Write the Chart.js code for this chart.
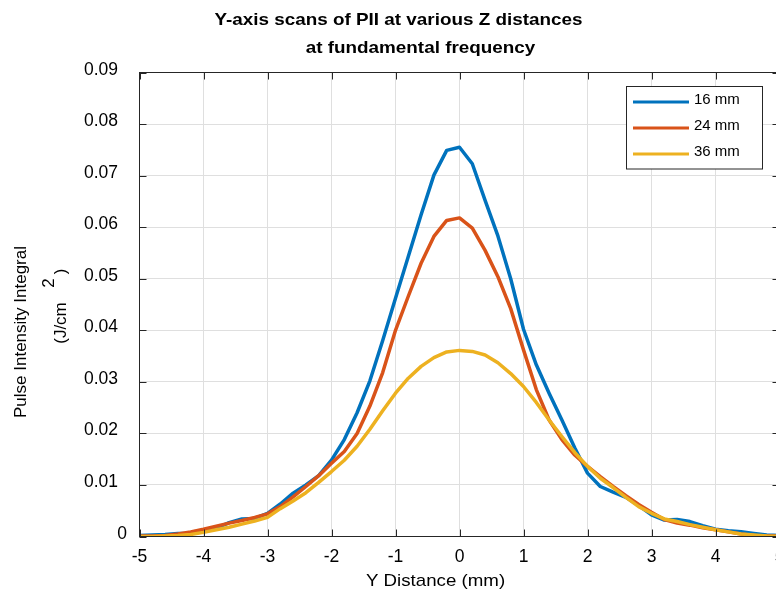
<!DOCTYPE html>
<html>
<head>
<meta charset="utf-8">
<title>Y-axis scans of PII</title>
<script src="https://cdn.jsdelivr.net/npm/chart.js@4/dist/chart.umd.min.js"></script>
<style>
  html, body { margin: 0; padding: 0; background: #ffffff; overflow: hidden; }
  #wrap { width: 776px; height: 597px; overflow: hidden; }
  canvas { display: block; }
</style>
</head>
<body>
<div id="wrap"><canvas id="c" width="790" height="597"></canvas></div>
<script>
// Y position of each scan sample (mm)
const yDistance = [
  -5.0, -4.8, -4.6, -4.4, -4.2, -4.0, -3.8, -3.6, -3.4, -3.2,
  -3.0, -2.8, -2.6, -2.4, -2.2, -2.0, -1.8, -1.6, -1.4, -1.2,
  -1.0, -0.8, -0.6, -0.4, -0.2, 0.0, 0.2, 0.4, 0.6, 0.8,
  1.0, 1.2, 1.4, 1.6, 1.8, 2.0, 2.2, 2.4, 2.6, 2.8,
  3.0, 3.2, 3.4, 3.6, 3.8, 4.0, 4.2, 4.4, 4.6, 4.8, 5.0
];

// Pulse intensity integral (J/cm^2) at Z = 16 mm
const pii16 = [
  0.0002, 0.0003, 0.0004, 0.0006, 0.0006, 0.0010, 0.0016, 0.0027, 0.0034, 0.0035,
  0.0045, 0.0063, 0.0084, 0.0100, 0.0118, 0.0148, 0.0188, 0.0240, 0.0302, 0.0380,
  0.0462, 0.0543, 0.0624, 0.0701, 0.0749, 0.0755, 0.0723, 0.0652, 0.0583, 0.0500,
  0.0402, 0.0333, 0.0278, 0.0226, 0.0172, 0.0123, 0.0097, 0.0086, 0.0076, 0.0060,
  0.0042, 0.0032, 0.0033, 0.0029, 0.0021, 0.0014, 0.0011, 0.0009, 0.0006, 0.0003, 0.0002
];

// Pulse intensity integral (J/cm^2) at Z = 24 mm
const pii24 = [
  0.0001, 0.0001, 0.0002, 0.0005, 0.0009, 0.0014, 0.0020, 0.0026, 0.0031, 0.0037,
  0.0044, 0.0058, 0.0077, 0.0097, 0.0118, 0.0142, 0.0165, 0.0200, 0.0253, 0.0318,
  0.0400, 0.0466, 0.0530, 0.0582, 0.0613, 0.0618, 0.0598, 0.0555, 0.0504, 0.0442,
  0.0362, 0.0285, 0.0226, 0.0188, 0.0158, 0.0136, 0.0116, 0.0097, 0.0079, 0.0062,
  0.0047, 0.0033, 0.0026, 0.0022, 0.0017, 0.0013, 0.0009, 0.0005, 0.0002, 0.0001, 0.0001
];

// Pulse intensity integral (J/cm^2) at Z = 36 mm
const pii36 = [
  0.0000, 0.0000, 0.0001, 0.0002, 0.0004, 0.0008, 0.0013, 0.0018, 0.0024, 0.0030,
  0.0037, 0.0054, 0.0069, 0.0085, 0.0105, 0.0126, 0.0148, 0.0175, 0.0208, 0.0244,
  0.0278, 0.0307, 0.0330, 0.0347, 0.0358, 0.0361, 0.0359, 0.0352, 0.0337, 0.0316,
  0.0291, 0.0260, 0.0226, 0.0194, 0.0163, 0.0136, 0.0113, 0.0095, 0.0076, 0.0058,
  0.0045, 0.0034, 0.0029, 0.0023, 0.0018, 0.0013, 0.0009, 0.0005, 0.0003, 0.0001, 0.0000
];

const seriesLabels = ['16 mm', '24 mm', '36 mm'];
const seriesColors = ['#0072BD', '#D95319', '#EDB120'];

const titleLines = ['Y-axis scans of PII at various Z distances', 'at fundamental frequency'];
const xTitle = 'Y Distance (mm)';
const yTitle = 'Pulse Intensity Integral';

const FONT = '"Liberation Sans", Arial, Helvetica, sans-serif';
const INK = '#262626';
const TXT = '#000000';

function pts(vals) {
  return yDistance.map((x, i) => ({ x: x, y: vals[i] }));
}

// horizontally widened text, centred on cx
function wideText(ctx, text, cx, y, sx) {
  ctx.save();
  ctx.translate(cx, y);
  ctx.scale(sx, 1);
  ctx.textAlign = 'center';
  ctx.fillText(text, 0, 0);
  ctx.restore();
}

function rotatedText(ctx, text, x, y) {
  ctx.save();
  ctx.translate(x, y);
  ctx.rotate(-Math.PI / 2);
  ctx.textAlign = 'center';
  ctx.fillText(text, 0, 0);
  ctx.restore();
}

// Axes frame with inward ticks, y tick labels, titles and legend
const decorations = {
  id: 'decorations',
  afterDraw(chart) {
    const { ctx, chartArea: a, scales } = chart;
    const xs = scales.x, ys = scales.y;
    ctx.save();

    // box
    ctx.strokeStyle = INK;
    ctx.lineWidth = 1;
    ctx.strokeRect(a.left, a.top, a.right - a.left, a.bottom - a.top);

    // inward tick marks on all four sides
    const tl = 7;
    ctx.beginPath();
    xs.ticks.forEach(t => {
      const px = Math.round(xs.getPixelForValue(t.value)) + 0.5;
      ctx.moveTo(px, a.bottom); ctx.lineTo(px, a.bottom - tl);
      ctx.moveTo(px, a.top); ctx.lineTo(px, a.top + tl);
    });
    ys.ticks.forEach(t => {
      const py = Math.round(ys.getPixelForValue(t.value)) + 0.5;
      ctx.moveTo(a.left, py); ctx.lineTo(a.left + tl, py);
      ctx.moveTo(a.right, py); ctx.lineTo(a.right - tl, py);
    });
    ctx.stroke();

    // y tick labels
    ctx.fillStyle = TXT;
    ctx.font = '17.5px ' + FONT;
    ctx.textAlign = 'right';
    ctx.textBaseline = 'alphabetic';
    ys.ticks.forEach(t => {
      const py = ys.getPixelForValue(t.value);
      const isZero = Math.abs(t.value) < 1e-9;
      const label = isZero ? '0' : t.value.toFixed(2);
      ctx.fillText(label, isZero ? 127 : 118, py + 2);
    });

    // chart title
    ctx.font = 'bold 17px ' + FONT;
    wideText(ctx, titleLines[0], 398.5, 24.5, 1.11);
    wideText(ctx, titleLines[1], 420.5, 53, 1.11);

    // x axis title
    ctx.font = '17px ' + FONT;
    wideText(ctx, xTitle, 435.5, 586, 1.1);

    // y axis title (two lines, rotated)
    rotatedText(ctx, yTitle, 26, 332);
    rotatedText(ctx, '(J/cm', 66, 323);
    rotatedText(ctx, '2', 54, 283);
    rotatedText(ctx, ')', 66, 271.5);

    // legend
    const lx = 626.5, ly = 86.5, lw = 136, lh = 82.5;
    ctx.fillStyle = '#ffffff';
    ctx.fillRect(lx, ly, lw, lh);
    ctx.strokeStyle = INK;
    ctx.lineWidth = 1;
    ctx.strokeRect(lx, ly, lw, lh);
    const rows = [102, 128, 154];
    ctx.font = '15px ' + FONT;
    ctx.textAlign = 'left';
    chart.data.datasets.forEach((ds, i) => {
      ctx.strokeStyle = ds.borderColor;
      ctx.lineWidth = 3;
      ctx.beginPath();
      ctx.moveTo(633, rows[i]);
      ctx.lineTo(689, rows[i]);
      ctx.stroke();
      ctx.fillStyle = TXT;
      ctx.fillText(ds.label, 694, rows[i] + 2);
    });

    ctx.restore();
  }
};

const datasets = [pii16, pii24, pii36].map((vals, i) => ({
  label: seriesLabels[i],
  data: pts(vals),
  borderColor: seriesColors[i],
  backgroundColor: seriesColors[i],
  borderWidth: 3.5,
  pointRadius: 0,
  tension: 0,
  fill: false,
  borderJoinStyle: 'round',
  borderCapStyle: 'round',
  order: 3 - i
}));

new Chart(document.getElementById('c'), {
  type: 'line',
  data: { datasets: datasets },
  options: {
    responsive: false,
    animation: false,
    devicePixelRatio: 1,
    layout: { padding: { top: 72.5, right: 10.5, left: 0, bottom: 0 } },
    plugins: {
      legend: { display: false },
      title: { display: false },
      tooltip: { enabled: false }
    },
    scales: {
      x: {
        type: 'linear',
        min: -5,
        max: 5,
        ticks: {
          stepSize: 1,
          color: TXT,
          font: { family: FONT, size: 17.5 },
          padding: 10,
          maxRotation: 0,
          autoSkip: false
        },
        grid: { color: '#dfdfdf', lineWidth: 1, drawTicks: false },
        border: { display: true, color: INK },
        afterFit(s) { s.height = 60.5; s.paddingLeft = 0; s.paddingRight = 0; }
      },
      y: {
        min: 0,
        max: 0.09,
        ticks: { display: false, stepSize: 0.01 },
        grid: { color: '#dfdfdf', lineWidth: 1, drawTicks: false },
        border: { display: true, color: INK },
        afterFit(s) { s.width = 139.5; }
      }
    }
  },
  plugins: [decorations]
});
</script>
</body>
</html>
